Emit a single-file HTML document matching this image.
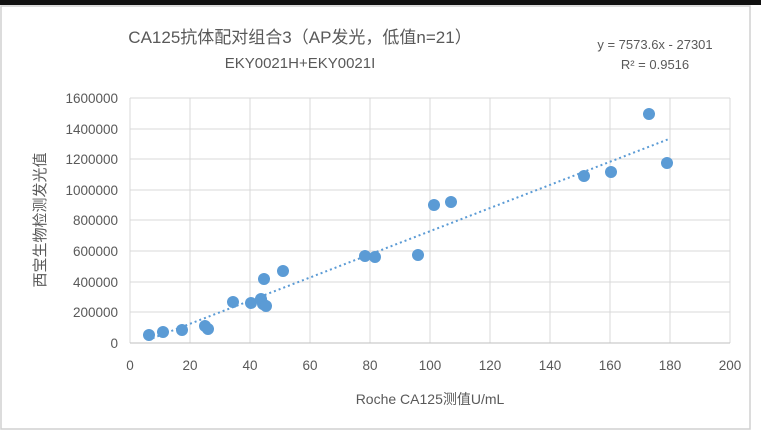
<!DOCTYPE html>
<html><head><meta charset="utf-8"><style>
body{margin:0;background:#fff;width:761px;height:435px;overflow:hidden;font-family:"Liberation Sans","Noto Sans CJK SC",sans-serif;}
</style></head><body>
<svg width="761" height="435" xmlns="http://www.w3.org/2000/svg" font-family="Liberation Sans, Noto Sans CJK SC, sans-serif">
<rect x="0" y="0" width="761" height="435" fill="#fff"/>
<rect x="0" y="0" width="761" height="5" fill="#111"/>
<rect x="1" y="6" width="749" height="423" fill="#fff" stroke="#d0d0d0" stroke-width="1.5"/>
<g stroke="#d9d9d9" stroke-width="1">
<line x1="130" y1="98" x2="730" y2="98"/><line x1="130" y1="129" x2="730" y2="129"/>
<line x1="130" y1="159" x2="730" y2="159"/><line x1="130" y1="190" x2="730" y2="190"/>
<line x1="130" y1="220" x2="730" y2="220"/><line x1="130" y1="251" x2="730" y2="251"/>
<line x1="130" y1="282" x2="730" y2="282"/><line x1="130" y1="312" x2="730" y2="312"/>
<line x1="130" y1="98" x2="130" y2="343"/><line x1="190" y1="98" x2="190" y2="343"/>
<line x1="250" y1="98" x2="250" y2="343"/><line x1="310" y1="98" x2="310" y2="343"/>
<line x1="370" y1="98" x2="370" y2="343"/><line x1="430" y1="98" x2="430" y2="343"/>
<line x1="490" y1="98" x2="490" y2="343"/><line x1="550" y1="98" x2="550" y2="343"/>
<line x1="610" y1="98" x2="610" y2="343"/><line x1="670" y1="98" x2="670" y2="343"/>
<line x1="730" y1="98" x2="730" y2="343"/>
</g>
<line x1="130" y1="343" x2="730" y2="343" stroke="#bfbfbf"/>
<g font-size="13.5" fill="#595959" text-anchor="end">
<text x="118" y="103">1600000</text><text x="118" y="134">1400000</text>
<text x="118" y="164">1200000</text><text x="118" y="195">1000000</text>
<text x="118" y="225">800000</text><text x="118" y="256">600000</text>
<text x="118" y="287">400000</text><text x="118" y="317">200000</text>
<text x="118" y="348">0</text>
</g>
<g font-size="13.5" fill="#595959" text-anchor="middle">
<text x="130" y="370">0</text><text x="190" y="370">20</text><text x="250" y="370">40</text>
<text x="310" y="370">60</text><text x="370" y="370">80</text><text x="430" y="370">100</text>
<text x="490" y="370">120</text><text x="550" y="370">140</text><text x="610" y="370">160</text>
<text x="670" y="370">180</text><text x="730" y="370">200</text>
</g>
<text x="430" y="404" font-size="14" fill="#595959" text-anchor="middle">Roche CA125测值U/mL</text>
<text transform="translate(45,220) rotate(-90)" font-size="15" fill="#595959" text-anchor="middle">西宝生物检测发光值</text>
<text x="300" y="43" font-size="17" fill="#595959" text-anchor="middle">CA125抗体配对组合3（AP发光，低值n=21）</text>
<text x="300" y="68" font-size="15" fill="#595959" text-anchor="middle">EKY0021H+EKY0021I</text>
<text x="655" y="49" font-size="13" fill="#595959" text-anchor="middle">y = 7573.6x - 27301</text>
<text x="655" y="69" font-size="13" fill="#595959" text-anchor="middle">R² = 0.9516</text>
<line x1="148" y1="340" x2="670" y2="138.6" stroke="#5b9bd5" stroke-width="2" stroke-dasharray="2,3"/>
<g fill="#5b9bd5">
<circle cx="149" cy="335" r="6"/><circle cx="163" cy="332" r="6"/><circle cx="182" cy="330" r="6"/>
<circle cx="205" cy="326" r="6"/><circle cx="208" cy="329" r="6"/><circle cx="233" cy="302" r="6"/>
<circle cx="251" cy="303" r="6"/><circle cx="261" cy="299" r="6"/><circle cx="263" cy="304" r="6"/>
<circle cx="264" cy="279" r="6"/><circle cx="266" cy="306" r="6"/><circle cx="283" cy="271" r="6"/>
<circle cx="365" cy="256" r="6"/><circle cx="375" cy="257" r="6"/><circle cx="418" cy="255" r="6"/>
<circle cx="434" cy="205" r="6"/><circle cx="451" cy="202" r="6"/><circle cx="584" cy="176" r="6"/>
<circle cx="611" cy="172" r="6"/><circle cx="649" cy="114" r="6"/><circle cx="667" cy="163" r="6"/>
</g>
</svg>
</body></html>
